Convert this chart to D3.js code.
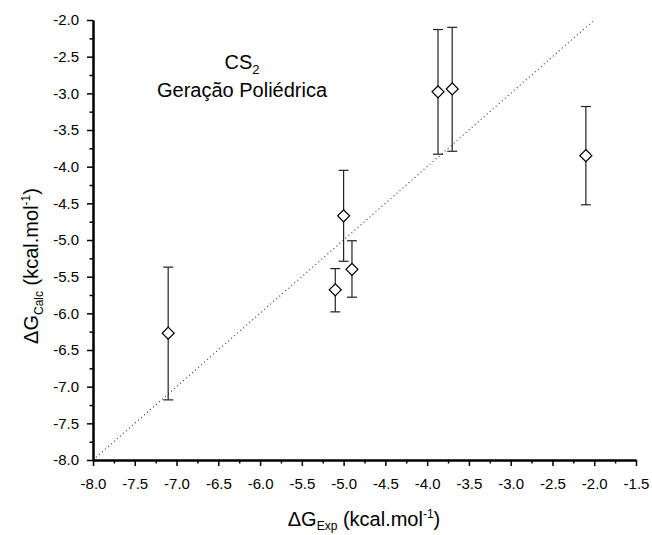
<!DOCTYPE html>
<html>
<head>
<meta charset="utf-8">
<script src="https://cdn.jsdelivr.net/npm/d3@7"></script>
<style>
  body { margin: 0; background: #fff; }
  svg { font-family: "Liberation Sans", Arial, sans-serif; }
</style>
</head>
<body>
<div class="canvas"></div>
<script>
/* ----------- DATA ----------- */
const expG = [-7.1, -5.1, -5.0, -4.9, -3.87, -3.7, -2.1];
const calcG = [-6.27, -5.68, -4.67, -5.40, -2.98, -2.94, -3.85];
const errLow = [-7.18, -5.98, -5.29, -5.78, -3.83, -3.79, -4.52];
const errHigh = [-5.37, -5.39, -4.05, -5.01, -2.13, -2.10, -3.18];
const xTicks = d3.range(-8, -1.49, 0.5);
const yTicks = d3.range(-8, -1.99, 0.5);
const idealLine = [[-8, -8], [-2, -2]];

const points = expG.map((x, i) => ({ x, y: calcG[i], lo: errLow[i], hi: errHigh[i] }));

/* ----------- CONTAINER ----------- */
const svg = d3.select('.canvas')
    .append('svg')
    .attr('width', 652)
    .attr('height', 535);

/* ----------- SCALES & AXES ------------- */
const x = d3.scaleLinear().domain([-8, -1.5]).range([93, 636]);
const y = d3.scaleLinear().domain([-8, -2]).range([460, 20]);

const fmt = d => d.toFixed(1);

// minor ticks first, major on top
const xMinor = d3.axisBottom(x).tickValues(xTicks.slice(0, -1).map(d => d + 0.25))
    .tickSize(3.5).tickSizeOuter(0).tickFormat('');
const yMinor = d3.axisLeft(y).tickValues(yTicks.slice(0, -1).map(d => d + 0.25))
    .tickSize(3.5).tickSizeOuter(0).tickFormat('');

svg.append('g').attr('transform', 'translate(0,460)').call(xMinor);
svg.append('g').attr('transform', 'translate(93,0)').call(yMinor);

const xAxisGroup = svg.append('g').attr('transform', 'translate(0,460)')
    .call(d3.axisBottom(x).tickValues(xTicks).tickSize(6).tickPadding(12)
        .tickSizeOuter(0).tickFormat(fmt));
const yAxisGroup = svg.append('g').attr('transform', 'translate(93,0)')
    .call(d3.axisLeft(y).tickValues(yTicks).tickSize(6).tickPadding(8)
        .tickSizeOuter(0).tickFormat(fmt));

svg.selectAll('.domain').attr('stroke', '#000').attr('stroke-width', 2);
svg.selectAll('.tick line').attr('stroke', '#000').attr('stroke-width', 1.5);
svg.selectAll('.tick text')
    .attr('fill', '#000')
    .style('font-size', '15px')
    .style('font-family', '"Liberation Sans", Arial, sans-serif');

/* ----------- DOTTED y = x LINE ----------- */
svg.append('path')
    .datum(idealLine)
    .attr('d', d3.line().x(d => x(d[0])).y(d => y(d[1])))
    .attr('fill', 'none')
    .attr('stroke', '#333')
    .attr('stroke-width', 1.1)
    .attr('stroke-dasharray', '1,3');

/* ----------- ERROR BARS & MARKERS ----------- */
const bars = svg.append('g').attr('stroke', '#222').attr('stroke-width', 1.2);

bars.selectAll('.err')
    .data(points)
    .enter()
    .append('line')
    .attr('x1', d => x(d.x)).attr('x2', d => x(d.x))
    .attr('y1', d => y(d.hi)).attr('y2', d => y(d.lo));

['hi', 'lo'].forEach(k => {
    bars.selectAll('.cap-' + k)
        .data(points)
        .enter()
        .append('line')
        .attr('x1', d => x(d.x) - 5).attr('x2', d => x(d.x) + 5)
        .attr('y1', d => y(d[k])).attr('y2', d => y(d[k]));
});

svg.append('g').selectAll('path')
    .data(points)
    .enter()
    .append('path')
    .attr('d', d3.symbol(d3.symbolSquare, 72))
    .attr('transform', d => `translate(${x(d.x)},${y(d.y)}) rotate(45)`)
    .attr('fill', '#fff')
    .attr('stroke', '#000')
    .attr('stroke-width', 1.2);

/* ----------- LABELS ----------- */
const note = svg.append('g').style('font-size', '20px').attr('fill', '#000');
const cs = note.append('text').attr('x', 242).attr('y', 69).attr('text-anchor', 'middle');
cs.append('tspan').text('CS');
cs.append('tspan').attr('dy', 5).style('font-size', '13px').text('2');
note.append('text').attr('x', 242).attr('y', 97).attr('text-anchor', 'middle')
    .text('Geração Poliédrica');

const xTitle = svg.append('text')
    .attr('x', 364).attr('y', 526)
    .attr('text-anchor', 'middle')
    .style('font-size', '20px');
xTitle.append('tspan').text('ΔG');
xTitle.append('tspan').attr('dy', 4).style('font-size', '12px').text('Exp');
xTitle.append('tspan').attr('dy', -4).text(' (kcal.mol');
xTitle.append('tspan').attr('dy', -8).style('font-size', '12px').text('-1');
xTitle.append('tspan').attr('dy', 8).text(')');

const yTitle = svg.append('text')
    .attr('transform', 'translate(38,266) rotate(-90)')
    .attr('text-anchor', 'middle')
    .style('font-size', '20px');
yTitle.append('tspan').text('ΔG');
yTitle.append('tspan').attr('dy', 5).style('font-size', '12px').text('Calc');
yTitle.append('tspan').attr('dy', -5).text(' (kcal.mol');
yTitle.append('tspan').attr('dy', -8).style('font-size', '12px').text('-1');
yTitle.append('tspan').attr('dy', 8).text(')');
</script>
</body>
</html>
